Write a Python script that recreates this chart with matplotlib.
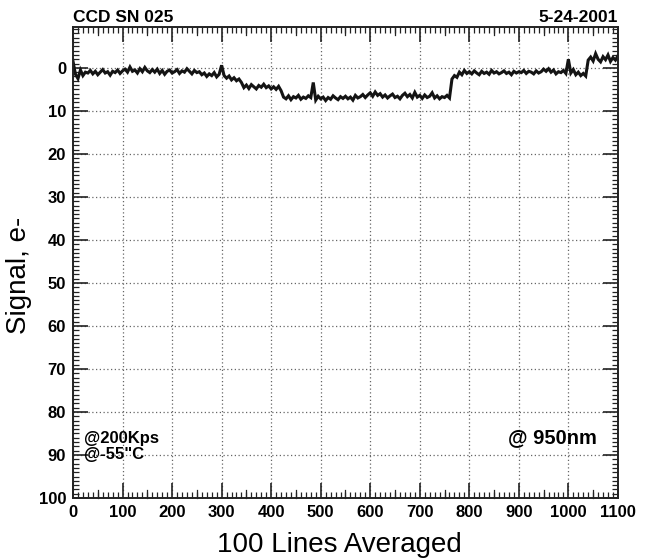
import matplotlib
matplotlib.use("Agg")
import matplotlib.pyplot as plt
from matplotlib.ticker import MultipleLocator, FixedLocator

# Averaged line signal (e-) sampled every 5 lines, 0..1100
lines = list(range(0, 1101, 5))
signal = [
    -1.5, 1.5, 2.5, 0.5, 1.8, 1.0, 1.2, 0.6, 1.4, 0.8, 1.6, 1.0, 0.4, 1.2, 0.9, 1.7, 0.8, 1.1, 0.5, 1.3, 0.7,
    0.3, 1.0, -0.2, 0.8, 0.5, 1.2, 0.2, 0.9, -0.1, 0.7, 1.1, 0.4, 1.0, 0.3, 1.3, 0.6, 1.5, 0.8, 0.5, 1.2,
    0.9, 0.4, 1.3, 0.7, 1.0, 0.2, 0.8, 1.4, 0.6, 1.1, 0.9, 1.6, 1.2, 2.0, 1.4, 1.8, 1.1, 2.1, 1.5, -0.6,
    1.8, 2.4, 1.9, 2.8, 2.3, 3.0, 2.6, 3.4, 4.6, 4.0, 4.8, 3.9, 4.4, 4.9, 4.1, 4.5, 3.8, 4.6, 4.2, 4.9,
    4.4, 5.0, 4.3, 5.3, 6.8, 7.2, 6.5, 7.4, 6.7, 7.0, 6.4, 7.3, 6.8, 7.1, 6.5, 6.9, 3.4, 7.5, 6.6, 7.2,
    6.8, 7.6, 6.9, 7.3, 6.5, 7.0, 7.4, 6.7, 7.1, 6.6, 7.2, 6.8, 7.5, 6.4, 7.0, 6.7, 6.2, 6.9, 6.3, 5.8,
    6.6, 5.6, 6.4, 6.0, 6.8, 6.3, 7.0, 6.5, 6.1, 6.9, 6.6, 7.2, 6.4, 5.9, 6.7, 6.2, 7.0, 5.7, 6.8, 6.4,
    7.1, 6.3, 6.9, 6.6, 5.8, 7.0, 6.5, 7.2, 6.7, 6.9, 6.4, 7.0, 2.6, 1.8, 2.2, 1.0, 1.6, 0.6, 1.3, 0.9,
    1.4, 0.7, 1.2, 1.6, 0.8, 1.3, 1.0, 1.5, 0.6, 1.2, 0.9, 1.4, 1.1, 0.7, 1.3, 1.0, 1.6, 0.8, 1.2, 0.9,
    1.1, 0.6, 1.3, 0.8, 1.0, 1.4, 0.7, 1.2, 0.9, 0.3, 0.8, 0.2, 1.0, 0.5, 1.4, 0.9, 1.1, 0.6, 1.3, -2.0,
    1.2, 0.4, 1.6, 1.0, 1.8, 1.3, 1.9, -1.8, -2.5, -1.6, -3.3, -2.0, -1.4, -2.6, -1.9, -3.0, -1.5, -2.4, -1.8, -2.8,
]

x_ticks = list(range(0, 1101, 100))
y_ticks = list(range(0, 101, 10))

BOLD = dict(family="Liberation Sans", fontweight="bold")

fig = plt.figure(figsize=(6.45, 5.6), dpi=100)
ax = fig.add_axes([0.1132, 0.1107, 0.958 - 0.1132, 0.9518 - 0.1107])

ax.plot(lines, signal, color="#141414", lw=2.2, solid_joinstyle="miter")

ax.set_xlim(0, 1100)
ax.set_ylim(100, -9.5)

ax.xaxis.set_major_locator(FixedLocator(x_ticks))
ax.yaxis.set_major_locator(FixedLocator(y_ticks))
ax.xaxis.set_minor_locator(MultipleLocator(10))
ax.yaxis.set_minor_locator(MultipleLocator(1))

ax.grid(True, which="major", color="#666666", linestyle=(0, (1, 2)), lw=0.9)

ax.tick_params(which="both", direction="in", top=True, right=True, color="#222222")
ax.tick_params(which="major", length=11, width=1.2)
ax.tick_params(axis="x", which="major", pad=5)
ax.tick_params(axis="y", which="major", pad=5)
ax.tick_params(which="minor", length=4, width=0.9)

# Medium ticks at the half-hundreds along x
for xv in range(50, 1100, 100):
    ax.plot([xv, xv], [100, 100 - 1.9], color="#222222", lw=0.9, clip_on=False)
    ax.plot([xv, xv], [-9.5, -9.5 + 1.9], color="#222222", lw=0.9, clip_on=False)

for lbl in ax.get_xticklabels() + ax.get_yticklabels():
    lbl.set_fontfamily("Liberation Sans")
    lbl.set_fontweight("bold")
    lbl.set_fontsize(12)

for s in ax.spines.values():
    s.set_linewidth(1.4)
    s.set_color("#222222")

fig.text(0.5265, 0.0268, "100 Lines Averaged", ha="center", va="center",
         fontsize=20, family="Liberation Sans")
fig.text(0.029, 0.509, "Signal, e-", ha="center", va="center", rotation=90,
         fontsize=20, family="Liberation Sans")

ax.text(0.0, 1.004, "CCD SN 025", transform=ax.transAxes, ha="left", va="bottom",
        fontsize=12.5, **BOLD)
ax.text(1.0, 1.004, "5-24-2001", transform=ax.transAxes, ha="right", va="bottom",
        fontsize=12.5, **BOLD)

ax.text(22, 88.0, "@200Kps\n@-55\"C", ha="left", va="center", fontsize=12,
        linespacing=1.1, **BOLD)
ax.text(1058, 86.0, "@ 950nm", ha="right", va="center", fontsize=14.5, **BOLD)

fig.savefig("out.png", dpi=100)
